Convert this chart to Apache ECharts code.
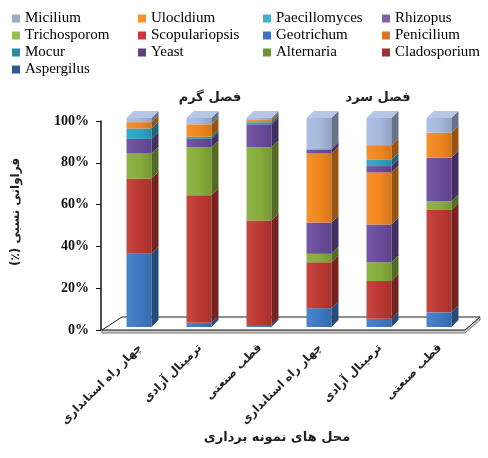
<!DOCTYPE html>
<html>
<head>
<meta charset="utf-8">
<script src="https://cdn.jsdelivr.net/npm/echarts@6/dist/echarts.min.js"></script>
<style>
    html, body { margin: 0; padding: 0; background: #fff; }
    #chart { width: 488px; height: 458px; }
</style>
</head>
<body>
<div id="chart"></div>
<script>
// محل های نمونه برداری (سه محل در فصل گرم، سه محل در فصل سرد)
const sites = ['چهار راه استانداری', 'ترمینال آزادی', 'قطب صنعتی',
               'چهار راه استانداری', 'ترمینال آزادی', 'قطب صنعتی'];

// درصد هر قارچ در هر محل، از پایین ستون به بالا
const aspergilus     = [35, 2, 1, 9, 4, 7];
const cladosporium   = [36, 61, 50, 22, 18, 49];
const alternaria     = [12, 23, 35, 4, 9, 4];
const yeast          = [7, 4, 11, 15, 18, 21];
const mocur          = [5, 1, 1, 0, 0, 0];
const penicilium     = [3, 6, 1, 33, 25, 12];
const geotrichum     = [0, 0, 0, 0, 0, 0];
const scopulariopsis = [0, 0, 0, 0, 0, 0];
const trichosporom   = [0, 0, 0, 0, 0, 0];
const rhizopus       = [0, 0, 0, 2, 3, 0];
const paecillomyces  = [0, 0, 0, 0, 3, 0];
const ulocldium      = [0, 0, 0, 0, 7, 0];
const micilium       = [2, 3, 1, 15, 13, 7];

const yTicks = [0, 20, 40, 60, 80, 100];

// ترتیب انباشت: [نام، داده، رنگ ستون، رنگ راهنما]
const stackOrder = [
    ['Aspergilus', aspergilus, '#3F78C2', '#2C5A93'],
    ['Cladosporium', cladosporium, '#BE3833', '#9A3433'],
    ['Alternaria', alternaria, '#87AD3B', '#6E9438'],
    ['Yeast', yeast, '#6A4C9C', '#5A4282'],
    ['Mocur', mocur, '#2EA2C2', '#2E88A4'],
    ['Penicilium', penicilium, '#F1871F', '#DC7420'],
    ['Geotrichum', geotrichum, '#3F78C2', '#3F73C0'],
    ['Scopulariopsis', scopulariopsis, '#BE3833', '#C8363E'],
    ['Trichosporom', trichosporom, '#87AD3B', '#93BF4F'],
    ['Rhizopus', rhizopus, '#6A4C9C', '#8064A8'],
    ['Paecillomyces', paecillomyces, '#2EA2C2', '#46AECB'],
    ['Ulocldium', ulocldium, '#F1871F', '#F7902F'],
    ['Micilium', micilium, '#A6B9DE', '#9CABC8']
];

function shade(hex, f) {
    let r = parseInt(hex.slice(1, 3), 16);
    let g = parseInt(hex.slice(3, 5), 16);
    let b = parseInt(hex.slice(5, 7), 16);
    if (f <= 1) {
        r *= f; g *= f; b *= f;
    } else {
        r += (255 - r) * (f - 1); g += (255 - g) * (f - 1); b += (255 - b) * (f - 1);
    }
    return 'rgb(' + Math.round(r) + ',' + Math.round(g) + ',' + Math.round(b) + ')';
}

// ستون سه بعدی: رو، پهلو و سقف
function makeRender(col) {
    return function (params, api) {
        const v = api.value(1);
        if (!v) return;
        const c = api.value(0);
        const b = api.value(2);
        const lo = api.coord([c, b]);
        const hi = api.coord([c, b + v]);
        const w = 25, d = 7, lift = 3;
        const x0 = lo[0] - w / 2 - 1;
        const yb = lo[1] - lift, yt = hi[1] - lift;
        const children = [
            {
                type: 'rect',
                shape: { x: x0, y: yt, width: w, height: yb - yt },
                style: {
                    fill: new echarts.graphic.LinearGradient(0, 0, 1, 0, [
                        { offset: 0, color: shade(col, 1.08) },
                        { offset: 0.5, color: col },
                        { offset: 1, color: shade(col, 0.88) }
                    ])
                }
            },
            {
                type: 'polygon',
                shape: { points: [[x0 + w, yb], [x0 + w + d, yb - d], [x0 + w + d, yt - d], [x0 + w, yt]] },
                style: { fill: shade(col, 0.62) }
            }
        ];
        if (b + v >= 99.5) {
            children.push({
                type: 'polygon',
                shape: { points: [[x0, yt], [x0 + w, yt], [x0 + w + d, yt - d], [x0 + d, yt - d]] },
                style: { fill: shade(col, 1.2) }
            });
        }
        return { type: 'group', children: children };
    };
}

function initFungiChart() {
    let fungiChart = echarts.init(document.getElementById('chart'), null, { renderer: 'canvas' });

    let series = [];

    // کف نمودار
    series.push({
        name: 'floor',
        type: 'custom',
        z: 1,
        silent: true,
        data: [[0, 0, 0]],
        renderItem: function (params, api) {
            const cs = params.coordSys;
            const x = cs.x, y0 = cs.y + cs.height, w = cs.width;
            return {
                type: 'group',
                children: [
                    {
                        type: 'polygon',
                        shape: { points: [[x - 8, y0], [x + w - 5, y0], [x + w + 10, y0 - 13], [x + w + 10, y0 - 10], [x + w - 5, y0 + 3], [x - 8, y0 + 3]] },
                        style: { fill: '#d0d0d0', stroke: '#555', lineWidth: 0.8 }
                    },
                    {
                        type: 'polygon',
                        shape: { points: [[x - 8, y0], [x + w - 5, y0], [x + w + 10, y0 - 13], [x + 12, y0 - 13]] },
                        style: { fill: '#ffffff', stroke: '#222', lineWidth: 1 }
                    }
                ]
            };
        }
    });

    let base = sites.map(() => 0);
    stackOrder.forEach(function (s) {
        const data = s[1].map(function (v, i) {
            const item = [i, v, base[i]];
            base[i] += v;
            return item;
        });
        series.push({
            name: s[0],
            type: 'custom',
            z: 2,
            itemStyle: { color: s[3] },
            encode: { x: 0, y: 1 },
            data: data,
            renderItem: makeRender(s[2])
        });
    });

    const legendText = { fontFamily: 'Liberation Serif', fontSize: 15, color: '#000', lineHeight: 15 };
    const legendCommon = {
        orient: 'vertical', top: 11, itemGap: 2, itemWidth: 8, itemHeight: 8,
        icon: 'rect', selectedMode: false, textStyle: legendText, padding: 0
    };

    const persian = { fontFamily: 'DejaVu Sans', fontWeight: 'bold', fill: '#222' };

    let fungiChartOption = {
        animation: false,
        legend: [
            Object.assign({ left: 12, data: ['Micilium', 'Trichosporom', 'Mocur', 'Aspergilus'] }, legendCommon),
            Object.assign({ left: 138, data: ['Ulocldium', 'Scopulariopsis', 'Yeast'] }, legendCommon),
            Object.assign({ left: 263, data: ['Paecillomyces', 'Geotrichum', 'Alternaria'] }, legendCommon),
            Object.assign({ left: 382, data: ['Rhizopus', 'Penicilium', 'Cladosporium'] }, legendCommon)
        ],
        grid: { left: 110, top: 121, width: 360, height: 209 },
        xAxis: {
            type: 'category',
            data: sites,
            axisLine: { show: false },
            axisTick: { show: false },
            axisLabel: {
                rotate: 45,
                margin: 16,
                interval: 0,
                fontFamily: 'DejaVu Sans',
                fontWeight: 'bold',
                fontSize: 11.5,
                color: '#222'
            }
        },
        yAxis: {
            type: 'value',
            min: yTicks[0],
            max: yTicks[yTicks.length - 1],
            interval: 20,
            offset: 9,
            axisLine: { show: true, lineStyle: { color: '#111', width: 1.5 } },
            axisTick: { show: true, length: 5, lineStyle: { color: '#111' } },
            splitLine: { show: false },
            axisLabel: {
                formatter: '{value}%',
                margin: 12,
                fontFamily: 'Liberation Serif',
                fontWeight: 'bold',
                fontSize: 14,
                color: '#111'
            }
        },
        graphic: [
            { type: 'text', x: 210, y: 98, style: Object.assign({ text: 'فصل گرم', fontSize: 13, align: 'center', verticalAlign: 'middle' }, persian) },
            { type: 'text', x: 378, y: 98, style: Object.assign({ text: 'فصل سرد', fontSize: 13, align: 'center', verticalAlign: 'middle' }, persian) },
            { type: 'text', x: 277, y: 438, style: Object.assign({ text: 'محل های نمونه برداری', fontSize: 13, align: 'center', verticalAlign: 'middle' }, persian) },
            { type: 'text', x: 16, y: 212, rotation: Math.PI / 2, style: Object.assign({ text: '(٪) فراوانی نسبی', fontSize: 12, align: 'center', verticalAlign: 'middle' }, persian) }
        ],
        series: series
    };

    fungiChart.setOption(fungiChartOption);
}

initFungiChart();
</script>
</body>
</html>
